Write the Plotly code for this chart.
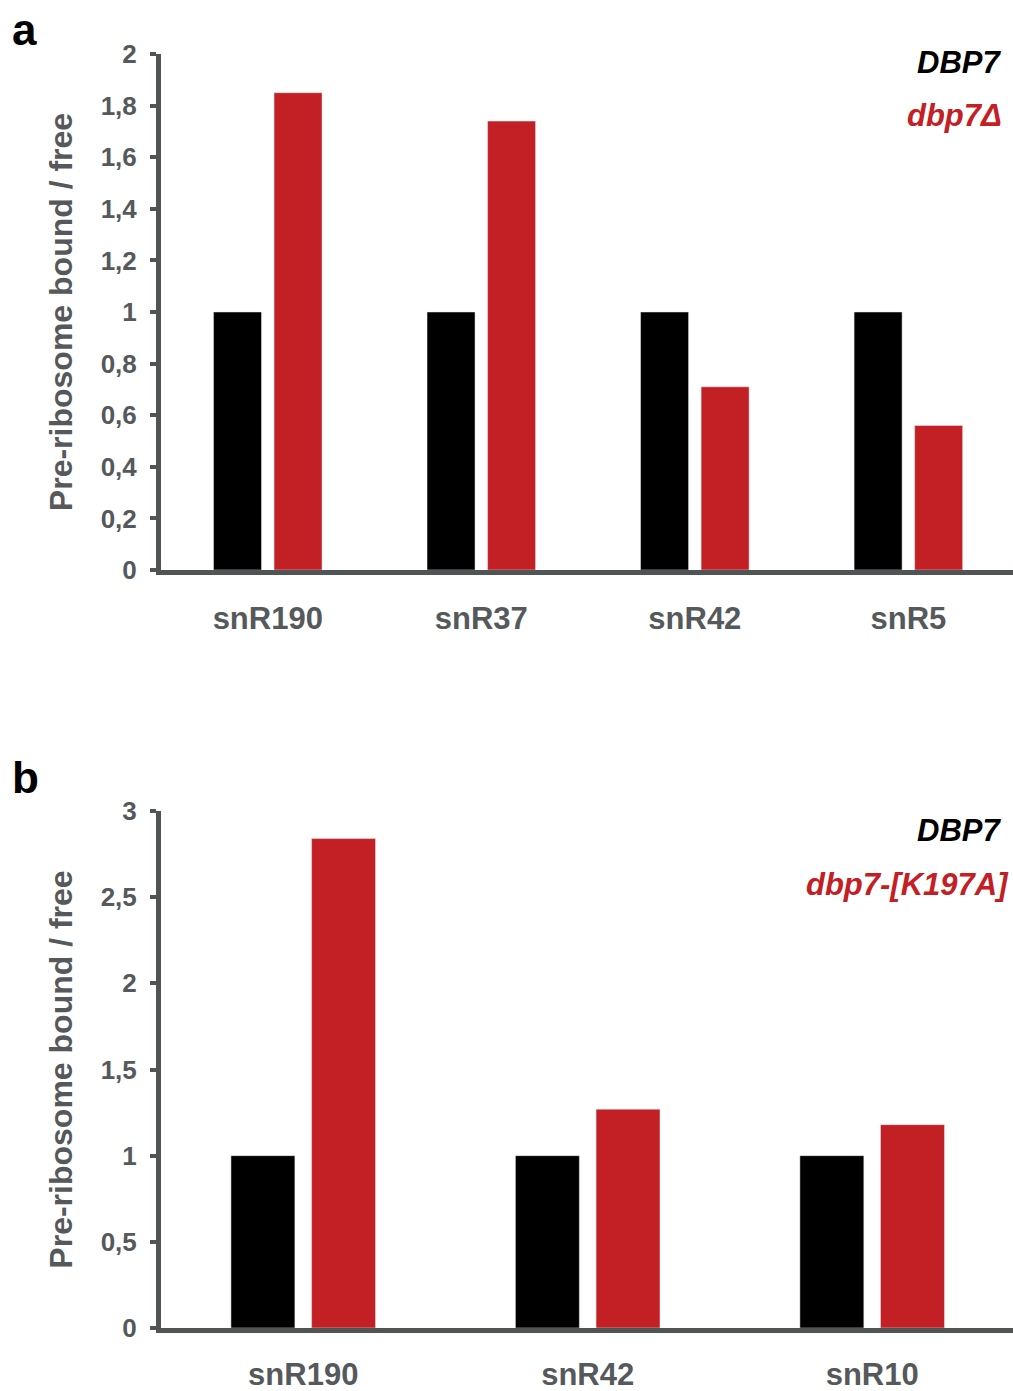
import plotly.graph_objects as go

# Panel a data
cats_a = ["snR190", "snR37", "snR42", "snR5"]
wt_a = [1.0, 1.0, 1.0, 1.0]
mut_a = [1.85, 1.74, 0.71, 0.56]
yticks_a = [0, 0.2, 0.4, 0.6, 0.8, 1.0, 1.2, 1.4, 1.6, 1.8, 2.0]
yticklabels_a = ["0", "0,2", "0,4", "0,6", "0,8", "1", "1,2", "1,4", "1,6", "1,8", "2"]

# Panel b data
cats_b = ["snR190", "snR42", "snR10"]
wt_b = [1.0, 1.0, 1.0]
mut_b = [2.84, 1.27, 1.18]
yticks_b = [0, 0.5, 1.0, 1.5, 2.0, 2.5, 3.0]
yticklabels_b = ["0", "0,5", "1", "1,5", "2", "2,5", "3"]

BLACK = "#000000"
RED = "#c32026"
GRAY = "#4f5455"
TXT = "#55595b"
FONT = "Liberation Sans, Arial, sans-serif"

W, H = 1013, 1391

def py(p):
    return (H - p) / H

fig = go.Figure()
fig.add_trace(go.Bar(x=cats_a, y=wt_a, marker_color=BLACK, xaxis="x", yaxis="y", showlegend=False))
fig.add_trace(go.Bar(x=cats_a, y=mut_a, marker_color=RED, xaxis="x", yaxis="y", showlegend=False))
fig.add_trace(go.Bar(x=cats_b, y=wt_b, marker_color=BLACK, xaxis="x2", yaxis="y2", showlegend=False))
fig.add_trace(go.Bar(x=cats_b, y=mut_b, marker_color=RED, xaxis="x2", yaxis="y2", showlegend=False))

xdom = [161 / W, 1.0]
axis_common = dict(showline=True, linecolor=GRAY, linewidth=5, showgrid=False, zeroline=False, automargin=False)

title_font = dict(size=32, color=TXT, family=FONT)
fig.update_layout(
    width=W, height=H,
    margin=dict(l=0, r=0, t=0, b=0, autoexpand=False),
    paper_bgcolor="white", plot_bgcolor="white",
    barmode="group", bargap=0.433, bargroupgap=0.207,
    font=dict(family=FONT, color=TXT),
    xaxis=dict(domain=xdom, anchor="y", range=[-0.5, 3.49], ticks="",
               tickvals=cats_a, ticktext=[f"<b>{c}</b>" for c in cats_a],
               tickfont=dict(size=31, color=TXT, family=FONT), ticklabelstandoff=17,
               **axis_common),
    yaxis=dict(domain=[py(570), py(54)], anchor="x", range=[0, 2],
               tickvals=yticks_a, ticktext=[f"<b>{t}</b>" for t in yticklabels_a],
               ticks="outside", ticklen=6, tickwidth=4, tickcolor=GRAY,
               tickfont=dict(size=26, color=TXT, family=FONT), ticklabelstandoff=8,
               title=dict(text="<b>Pre-ribosome bound / free</b>", font=title_font, standoff=20),
               **axis_common),
    xaxis2=dict(domain=xdom, anchor="y2", range=[-0.5, 2.495], ticks="",
                tickvals=cats_b, ticktext=[f"<b>{c}</b>" for c in cats_b],
                tickfont=dict(size=31, color=TXT, family=FONT), ticklabelstandoff=15,
                **axis_common),
    yaxis2=dict(domain=[py(1328), py(811)], anchor="x2", range=[0, 3],
                tickvals=yticks_b, ticktext=[f"<b>{t}</b>" for t in yticklabels_b],
                ticks="outside", ticklen=6, tickwidth=4, tickcolor=GRAY,
                tickfont=dict(size=26, color=TXT, family=FONT), ticklabelstandoff=8,
                title=dict(text="<b>Pre-ribosome bound / free</b>", font=title_font, standoff=20),
                **axis_common),
)

annots = [
    dict(text="<b>a</b>", x=10 / W, y=py(29), xanchor="left", yanchor="middle", font=dict(size=44, color=BLACK)),
    dict(text="<b>b</b>", x=10 / W, y=py(777), xanchor="left", yanchor="middle", font=dict(size=44, color=BLACK)),
    dict(text="<b><i>DBP7</i></b>", x=1003 / W, y=py(63), xanchor="right", yanchor="middle", font=dict(size=31, color=BLACK)),
    dict(text="<b><i>dbp7Δ</i></b>", x=1004 / W, y=py(116), xanchor="right", yanchor="middle", font=dict(size=31, color=RED)),
    dict(text="<b><i>DBP7</i></b>", x=1003 / W, y=py(830), xanchor="right", yanchor="middle", font=dict(size=31, color=BLACK)),
    dict(text="<b><i>dbp7-[K197A]</i></b>", x=1011 / W, y=py(884), xanchor="right", yanchor="middle", font=dict(size=31, color=RED)),
]
for a in annots:
    a.update(xref="paper", yref="paper", showarrow=False)
    a["font"]["family"] = FONT
fig.update_layout(annotations=annots)

fig.write_html("out.html")
